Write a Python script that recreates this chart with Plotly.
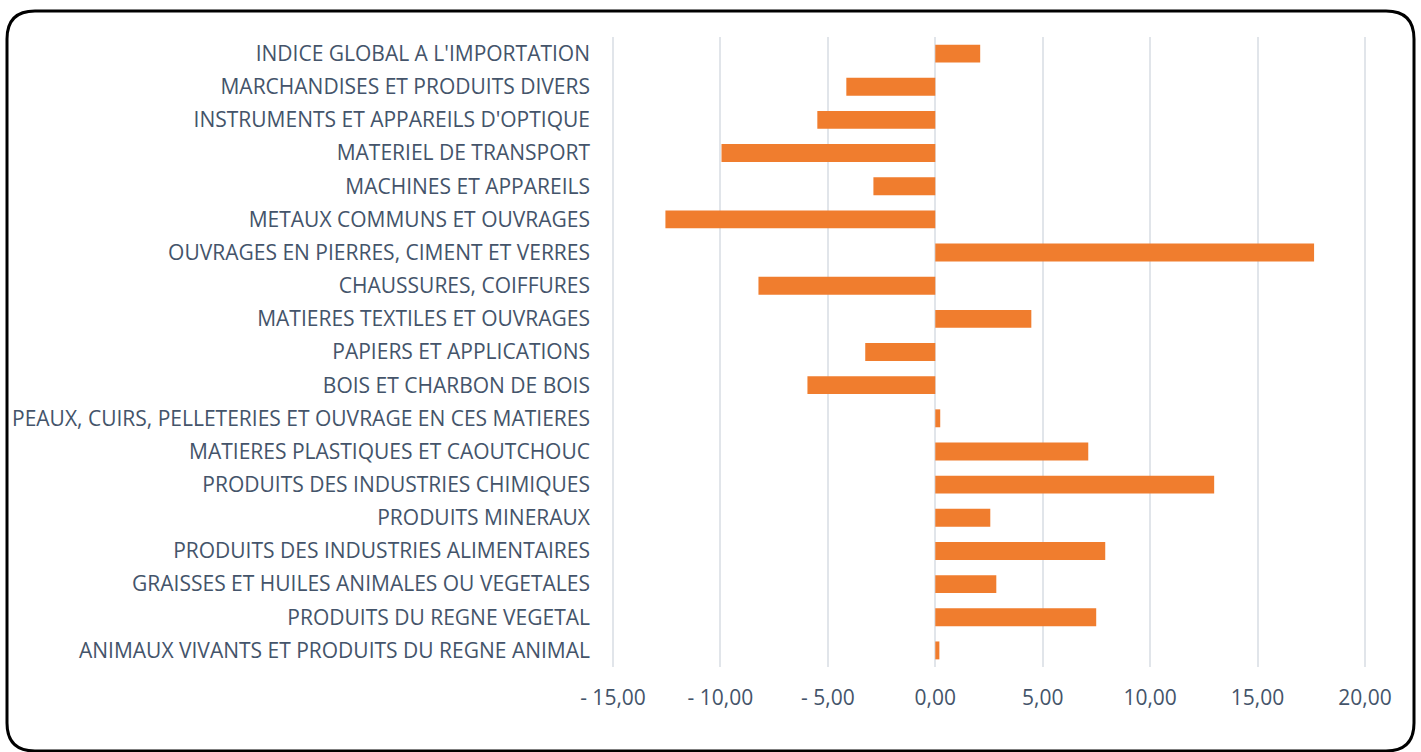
import plotly.graph_objects as go

categories = [
    "ANIMAUX VIVANTS ET PRODUITS DU REGNE ANIMAL",
    "PRODUITS DU REGNE VEGETAL",
    "GRAISSES ET HUILES ANIMALES OU VEGETALES",
    "PRODUITS DES INDUSTRIES ALIMENTAIRES",
    "PRODUITS MINERAUX",
    "PRODUITS DES INDUSTRIES CHIMIQUES",
    "MATIERES PLASTIQUES ET CAOUTCHOUC",
    "PEAUX, CUIRS, PELLETERIES ET OUVRAGE EN CES MATIERES",
    "BOIS ET CHARBON DE BOIS",
    "PAPIERS ET APPLICATIONS",
    "MATIERES TEXTILES ET OUVRAGES",
    "CHAUSSURES, COIFFURES",
    "OUVRAGES EN PIERRES, CIMENT ET VERRES",
    "METAUX COMMUNS ET OUVRAGES",
    "MACHINES ET APPAREILS",
    "MATERIEL DE TRANSPORT",
    "INSTRUMENTS ET APPAREILS D'OPTIQUE",
    "MARCHANDISES ET PRODUITS DIVERS",
    "INDICE GLOBAL A L'IMPORTATION",
]
values = [0.19, 7.49, 2.84, 7.91, 2.56, 12.98, 7.12, 0.23, -5.95, -3.26,
          4.47, -8.23, 17.63, -12.56, -2.88, -9.95, -5.49, -4.14, 2.09]

tick_vals = [-15, -10, -5, 0, 5, 10, 15, 20]
tick_text = ["- 15,00", "- 10,00", "- 5,00", "0,00", "5,00", "10,00", "15,00", "20,00"]

W, H = 1421, 752
L, R, T, B = 611, 54, 37, 85
PW, PH = W - L - R, H - T - B

def px(x):
    return (x - L) / PW

def py(y):
    return (H - B - y) / PH

fig = go.Figure(go.Bar(
    x=values, y=categories, orientation="h",
    marker=dict(color="#f07d2e", line=dict(width=0)),
    width=0.54,
))

# rounded border
x0, x1, y0, y1, rr = 7, 1414, 11, 751, 28
path = (
    f"M {px(x0+rr)},{py(y0)} L {px(x1-rr)},{py(y0)} "
    f"Q {px(x1)},{py(y0)} {px(x1)},{py(y0+rr)} "
    f"L {px(x1)},{py(y1-rr)} Q {px(x1)},{py(y1)} {px(x1-rr)},{py(y1)} "
    f"L {px(x0+rr)},{py(y1)} Q {px(x0)},{py(y1)} {px(x0)},{py(y1-rr)} "
    f"L {px(x0)},{py(y0+rr)} Q {px(x0)},{py(y0)} {px(x0+rr)},{py(y0)} Z"
)
fig.add_shape(type="path", path=path, xref="paper", yref="paper",
              line=dict(color="black", width=3), layer="above")

fig.update_layout(
    width=W, height=H,
    margin=dict(l=L, r=R, t=T, b=B, autoexpand=False),
    paper_bgcolor="white", plot_bgcolor="white",
    font=dict(family="Open Sans", color="#44546a", size=21),
    showlegend=False,
    xaxis=dict(range=[-15.093, 20.093], tickvals=tick_vals, ticktext=tick_text,
               showgrid=True, gridcolor="#e1e5ea", gridwidth=2,
               zeroline=False, showline=False, ticks="",
               tickfont=dict(size=21, color="#44546a"), ticklabelstandoff=16),
    yaxis=dict(categoryorder="array", categoryarray=categories,
               showgrid=False, zeroline=False, showline=False, ticks="",
               tickfont=dict(size=21, color="#44546a"), ticklabelstandoff=20,
               range=[-0.5, len(categories) - 0.5]),
)

fig.write_html("out.html", config={"displayModeBar": False},
               post_script="document.body.style.margin='0';document.body.style.overflow='hidden';")
